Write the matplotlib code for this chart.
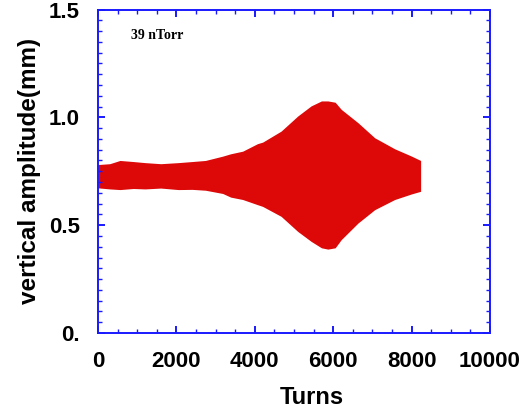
import matplotlib
matplotlib.use("Agg")
import matplotlib.pyplot as plt
from matplotlib.ticker import MultipleLocator, FixedLocator, FixedFormatter

turns = [0, 300, 560, 900, 1200, 1600, 2050, 2400, 2740, 3180, 3385, 3690, 4070, 4200, 4670, 5095, 5436, 5700, 5864, 6050, 6205, 6633, 7060, 7570, 8000, 8230]
upper = [0.781, 0.785, 0.80, 0.795, 0.79, 0.785, 0.79, 0.795, 0.80, 0.82, 0.831, 0.843, 0.878, 0.885, 0.936, 1.006, 1.053, 1.076, 1.076, 1.07, 1.037, 0.975, 0.905, 0.854, 0.82, 0.80]
lower = [0.673, 0.668, 0.665, 0.67, 0.668, 0.672, 0.665, 0.666, 0.662, 0.647, 0.630, 0.619, 0.595, 0.587, 0.541, 0.471, 0.425, 0.395, 0.389, 0.395, 0.433, 0.51, 0.572, 0.619, 0.645, 0.657]

yticks = [0.0, 0.5, 1.0, 1.5]
yticklabels = ["0.", "0.5", "1.0", "1.5"]
xticks = [0, 2000, 4000, 6000, 8000, 10000]

plt.rcParams['font.family'] = ['Liberation Sans', 'DejaVu Sans']
fig = plt.figure(figsize=(5.25, 4.09), dpi=100)
ax = fig.add_axes([98/525, 1-333/409, 392/525, 323.5/409])

ax.fill_between(turns, lower, upper, color='#dd0808', linewidth=0)

ax.set_xlim(0, 10000)
ax.set_ylim(0, 1.5)
ax.xaxis.set_major_locator(FixedLocator(xticks))
ax.xaxis.set_minor_locator(MultipleLocator(500))
ax.yaxis.set_major_locator(FixedLocator(yticks))
ax.yaxis.set_major_formatter(FixedFormatter(yticklabels))
ax.yaxis.set_minor_locator(MultipleLocator(0.05))

blue = '#1a1aff'
for s in ax.spines.values():
    s.set_color(blue)
    s.set_linewidth(1.4)
ax.tick_params(which='both', direction='in', top=True, right=True, color=blue)
ax.tick_params(which='major', length=5, width=1.4, labelsize=16, pad=13)
ax.tick_params(which='minor', length=3, width=1.0)
for lab in ax.get_xticklabels() + ax.get_yticklabels():
    lab.set_fontweight('bold')

ax.set_xlabel('Turns', fontsize=17, fontweight='bold')
ax.xaxis.set_label_coords(0.546, -0.163)
ax.set_ylabel('vertical amplitude(mm)', fontsize=17.5, fontweight='bold', labelpad=6)

ax.text(0.083, 0.92, '39 nTorr', transform=ax.transAxes, fontsize=10,
        fontweight='bold', family='Liberation Serif', va='center', ha='left')

fig.savefig('out.png', dpi=100)
